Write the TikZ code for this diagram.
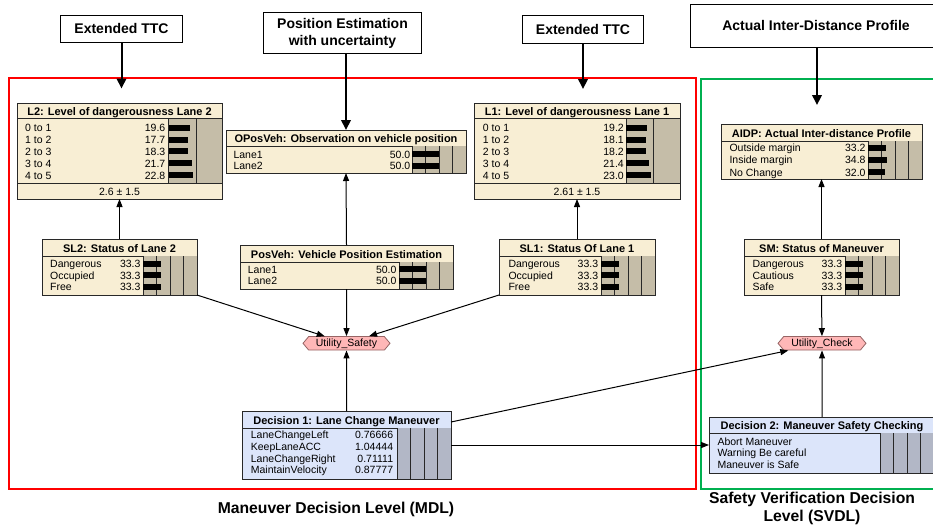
\documentclass[tikz,border=0pt]{standalone}
\usepackage{fontspec}
\setmainfont{Liberation Sans}
\usetikzlibrary{arrows.meta,fit,shapes.symbols}
\definecolor{beige}{RGB}{248,238,212}
\definecolor{bargray}{RGB}{197,189,168}
\definecolor{decfill}{RGB}{220,229,250}
\definecolor{decbar}{RGB}{178,183,198}
\definecolor{utilfill}{RGB}{255,183,183}
\definecolor{utilline}{RGB}{150,100,100}
\definecolor{boxline}{RGB}{40,40,40}
\definecolor{mdlred}{RGB}{255,0,0}
\definecolor{svdlgreen}{RGB}{0,176,80}
\newcounter{tn}
% name x1 y1 x2 y2 titlebottom fill title
\newcommand\nnode[8]{%
  \node[fit={(#2,#3)(#4,#5)}, inner sep=0pt, outer sep=0pt, fill=#7] (#1) {};
  \draw[sep] (#2,#6) -- (#4,#6);
  \node[ttl, anchor=base] (#1-t) at ({(#2+#4)/2}, {(#3+#6)/2+4.5}) {#8};
}
\newcommand\nborder[1]{\draw[frameline] (#1.north west) rectangle (#1.south east);}
% x0 x1 y0 y1 colour dividers
\newcommand\barea[6]{%
  \fill[#5] (#1,#3) rectangle (#2,#4);
  \draw[sep] (#1,#3) -- (#1,#4);
  \foreach \d in {#6} \draw[div] (\d,#3) -- (\d,#4);
}
% labelx valuex baseline label value barx barlen
\newcommand\nrow[7]{%
  \stepcounter{tn}\node[rowtxt, anchor=base west] (t\arabic{tn}) at (#1,#3) {#4};
  \stepcounter{tn}\node[rowtxt, anchor=base east] (t\arabic{tn}) at (#2,#3) {#5};
  \fill[black] (#6,#3-7) rectangle ++(#7,6);
}
\newcommand\drow[5]{%
  \stepcounter{tn}\node[rowtxt, anchor=base west] (t\arabic{tn}) at (#1,#3) {#4};
  \stepcounter{tn}\node[rowtxt, anchor=base east] (t\arabic{tn}) at (#2,#3) {#5};
}
\begin{document}
\begin{tikzpicture}[x=1pt,y=-1pt,
  rowtxt/.style={inner sep=0pt, font=\fontsize{10.5}{12}\selectfont},
  ttl/.style={inner sep=0pt, font=\bfseries\fontsize{11}{13}\selectfont},
  sep/.style={draw=boxline, line width=0.9pt},
  div/.style={draw=boxline, line width=0.8pt},
  frameline/.style={draw=boxline, line width=1pt},
  topbox/.style={draw=black, line width=1pt, fill=white, font=\bfseries\fontsize{14}{17.4}\selectfont, align=center, inner sep=0pt},
  bigarr/.style={draw=black, line width=2pt, -{Triangle[width=9.5pt,length=10pt]}},
  arr/.style={draw=black, line width=1pt, -{Triangle[width=6pt,length=8pt]}},
  util/.style={shape=signal, signal to=west and east, signal pointer angle=100, draw=utilline, fill=utilfill, line width=0.8pt, inner xsep=2pt, inner ysep=1pt, minimum height=13.5pt, font=\fontsize{10.5}{12}\selectfont},
  lvl/.style={font=\bfseries\fontsize{15.7}{18}\selectfont, align=center, inner sep=0pt}
]
\useasboundingbox (0,0) rectangle (933,531);
\fill[white] (0,0) rectangle (933,531);

% frames
\draw[mdlred, line width=2pt] (9,78) rectangle (695.5,488.5);
\draw[svdlgreen, line width=2pt] (700.5,78.5) rectangle (945,488.5);

% top boxes
\node[topbox, minimum width=121.6pt, minimum height=27.3pt] (ttcL) at (121.5,28.7) {Extended TTC};
\node[topbox, minimum width=158.4pt, minimum height=41.3pt] (posest) at (342.5,33.3) {Position Estimation\\with uncertainty};
\node[topbox, minimum width=120.6pt, minimum height=27.6pt] (ttcR) at (583,29.5) {Extended TTC};
\node[topbox, fit={(690.7,4.3)(950,47.7)}] (aidbox) {};
\node[topbox, draw=none, fill=none] (aidtxt) at (816,25.5) {Actual Inter-Distance Profile};
\coordinate (ttcLend) at (121.5,88.5);
\coordinate (ttcRend) at (583,89);
\coordinate (aidend) at (817,105);

% L2
\nnode{l2}{17}{103}{222}{199}{118.5}{beige}{L2: Level of dangerousness Lane 2}
\draw[sep] (17,183.3) -- (222,183.3);
\barea{168.5}{222}{118.5}{183.3}{bargray}{196}
\nrow{25}{165.5}{131.5}{0 to 1}{19.6}{168.5}{19.6*1.08}
\nrow{25}{165.5}{143.5}{1 to 2}{17.7}{168.5}{17.7*1.08}
\nrow{25}{165.5}{155.4}{2 to 3}{18.3}{168.5}{18.3*1.08}
\nrow{25}{165.5}{167.3}{3 to 4}{21.7}{168.5}{21.7*1.08}
\nrow{25}{165.5}{179}{4 to 5}{22.8}{168.5}{22.8*1.08}
\node[rowtxt, anchor=base] (l2-f) at (119.5,195.5) {2.6 ± 1.5};
\nborder{l2}

% L1
\nnode{l1}{474}{103}{680}{199}{118.5}{beige}{L1: Level of dangerousness Lane 1}
\draw[sep] (474,183.3) -- (680,183.3);
\barea{626}{680}{118.5}{183.3}{bargray}{653}
\nrow{482.7}{624}{131.5}{0 to 1}{19.2}{626}{19.2*1.08}
\nrow{482.7}{624}{143.5}{1 to 2}{18.1}{626}{18.1*1.08}
\nrow{482.7}{624}{155.4}{2 to 3}{18.2}{626}{18.2*1.08}
\nrow{482.7}{624}{167.3}{3 to 4}{21.4}{626}{21.4*1.08}
\nrow{482.7}{624}{179}{4 to 5}{23.0}{626}{23.0*1.08}
\node[rowtxt, anchor=base] (l1-f) at (577,195.5) {2.61 ± 1.5};
\nborder{l1}

% OPosVeh
\nnode{opos}{226}{130}{466}{173}{146}{beige}{OPosVeh: Observation on vehicle position}
\barea{412}{466}{146}{173}{bargray}{425.5,439,452.5}
\nrow{233.3}{410.5}{158.1}{Lane1}{50.0}{412}{27}
\nrow{233.3}{410.5}{169.5}{Lane2}{50.0}{412}{27}
\nborder{opos}

% AIDP
\nnode{aidp}{721}{124}{922}{179}{141}{beige}{AIDP: Actual Inter-distance Profile}
\barea{868}{922}{141}{179}{bargray}{881.5,895,908.5}
\nrow{729.3}{865.7}{151.5}{Outside margin}{33.2}{868}{33.2*0.54}
\nrow{729.3}{865.7}{163.8}{Inside margin}{34.8}{868}{34.8*0.54}
\nrow{729.3}{865.7}{176}{No Change}{32.0}{868}{32.0*0.54}
\nborder{aidp}

% SL2
\nnode{sl2}{42}{239}{197}{295}{256}{beige}{SL2: Status of Lane 2}
\barea{143}{197}{256}{295}{bargray}{156.5,170,183.5}
\nrow{50}{140.7}{267.8}{Dangerous}{33.3}{143}{18}
\nrow{50}{140.7}{279.3}{Occupied}{33.3}{143}{18}
\nrow{50}{140.7}{290.8}{Free}{33.3}{143}{18}
\nborder{sl2}

% PosVeh
\nnode{posveh}{240}{245}{453}{289}{262}{beige}{PosVeh: Vehicle Position Estimation}
\barea{399}{453}{262}{289}{bargray}{412.5,426,439.5}
\nrow{247.7}{396.7}{273.1}{Lane1}{50.0}{399}{27}
\nrow{247.7}{396.7}{284.5}{Lane2}{50.0}{399}{27}
\nborder{posveh}

% SL1
\nnode{sl1}{499}{239}{655}{295}{256}{beige}{SL1: Status Of Lane 1}
\barea{601}{655}{256}{295}{bargray}{614.5,628,641.5}
\nrow{508.3}{598.3}{267.8}{Dangerous}{33.3}{601}{18}
\nrow{508.3}{598.3}{279.3}{Occupied}{33.3}{601}{18}
\nrow{508.3}{598.3}{290.8}{Free}{33.3}{601}{18}
\nborder{sl1}

% SM
\nnode{sm}{744}{239}{899}{295}{256}{beige}{SM: Status of Maneuver}
\barea{845}{899}{256}{295}{bargray}{858.5,872,885.5}
\nrow{752.3}{842.3}{267.8}{Dangerous}{33.3}{845}{18}
\nrow{752.3}{842.3}{279.3}{Cautious}{33.3}{845}{18}
\nrow{752.3}{842.3}{290.8}{Safe}{33.3}{845}{18}
\nborder{sm}

% utilities
\node[util, minimum width=87pt] (us) at (346.5,343.3) {Utility\_Safety};
\node[util, minimum width=88pt] (uc) at (822,343.3) {Utility\_Check};

% Decision 1
\nnode{dec1}{242}{411}{451}{479}{428}{decfill}{Decision 1: Lane Change Maneuver}
\barea{397}{451}{428}{479}{decbar}{410.5,424,437.5}
\drow{250.7}{393.3}{438.8}{LaneChangeLeft}{0.76666}
\drow{250.7}{393.3}{450.5}{KeepLaneACC}{1.04444}
\drow{250.7}{393.3}{462.2}{LaneChangeRight}{0.71111}
\drow{250.7}{393.3}{473.9}{MaintainVelocity}{0.87777}
\nborder{dec1}

% Decision 2
\nnode{dec2}{709}{417}{935}{473}{433}{decfill}{Decision 2: Maneuver Safety Checking}
\barea{880}{935}{433}{473}{decbar}{893.5,907,920.5,934}
\stepcounter{tn}\node[rowtxt, anchor=base west] (t\arabic{tn}) at (717.3,445.5) {Abort Maneuver};
\stepcounter{tn}\node[rowtxt, anchor=base west] (t\arabic{tn}) at (717.3,456.8) {Warning Be careful};
\stepcounter{tn}\node[rowtxt, anchor=base west] (t\arabic{tn}) at (717.3,468.5) {Maneuver is Safe};
\nborder{dec2}

% level labels
\node[lvl] (mdl) at (336,509) {Maneuver Decision Level (MDL)};
\node[lvl] (svdl) at (812,508) {Safety Verification Decision\\Level (SVDL)};

% connectors
\draw[bigarr] (ttcL.south) -- (ttcLend);
\draw[bigarr] (posest.south -| opos.north) -- (opos.north);
\draw[bigarr] (ttcR.south) -- (ttcRend);
\draw[bigarr] (aidbox.south -| aidend) -- (aidend);
\draw[arr] (sl2.north) -- (l2.south);
\draw[arr] (posveh.north) -- (opos.south);
\draw[arr] (sl1.north) -- (l1.south);
\draw[arr] (sm.north) -- (aidp.south);
\draw[arr] (sl2.south east) -- (us);
\draw[arr] (posveh.south) -- (us);
\draw[arr] (sl1.south west) -- (us);
\draw[arr] (dec1.north) -- (us);
\draw[arr] (sm.south) -- (uc);
\draw[arr] (dec2.north) -- (uc);
\draw[arr] ([yshift=-11pt]dec1.north east) -- (uc);
\draw[arr] (dec1.east) -- (dec2.west);
\end{tikzpicture}
\end{document}
